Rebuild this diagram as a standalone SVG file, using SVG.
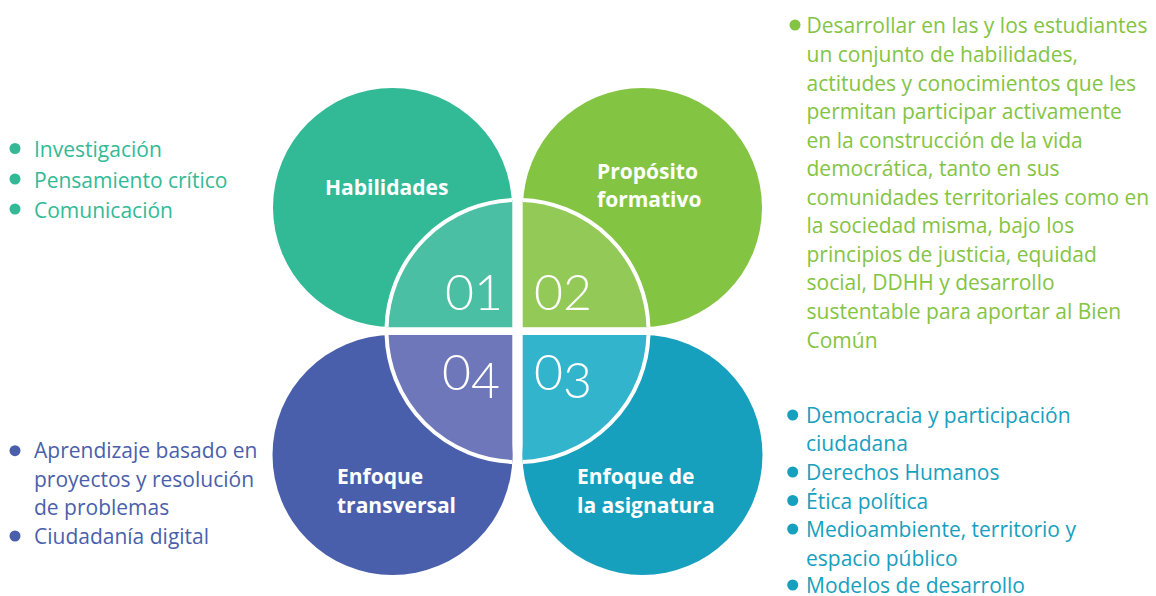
<svg xmlns="http://www.w3.org/2000/svg" width="1156" height="596" viewBox="0 0 1156 596">
<style>
.lbl{font-family:"Open Sans","Noto Sans","Liberation Sans",sans-serif;font-weight:700;font-size:21px;fill:#fff}
.num{font-family:Lato,Inter,"Open Sans",sans-serif;font-weight:300;font-size:50px;fill:#fff}
.txt{font-family:"Open Sans","Noto Sans","Liberation Sans",sans-serif;font-size:21px}
.ring{stroke:#fff;stroke-width:4}
</style>
<defs>
<clipPath id="c1"><rect x="370" y="180" width="142.3" height="147.3"/></clipPath>
<clipPath id="c2"><rect x="522.7" y="180" width="142" height="147.3"/></clipPath>
<clipPath id="c3"><rect x="522.7" y="335" width="142" height="140"/></clipPath>
<clipPath id="c4"><rect x="370" y="335" width="142.3" height="140"/></clipPath>
</defs>
<rect width="1156" height="596" fill="#fff"/>

<g id="habilidades">
<circle cx="392.5" cy="207.5" r="119.5" fill="#32BA97"/>
<circle cx="517.5" cy="331" r="131" fill="#4BBFA4" class="ring" clip-path="url(#c1)"/>
<text class="lbl" x="325" y="195">Habilidades</text>
<text class="num" x="503" y="310" text-anchor="end">01</text>
<g fill="#32BA97" class="txt">
<circle cx="15" cy="148.5" r="5.5"/>
<text x="34" y="157">Investigación</text>
<circle cx="15" cy="179" r="5.5"/>
<text x="34" y="187.5">Pensamiento crítico</text>
<circle cx="15" cy="209" r="5.5"/>
<text x="34" y="217.5">Comunicación</text>
</g>
</g>

<g id="proposito">
<circle cx="642.5" cy="207.5" r="119.5" fill="#84C443"/>
<circle cx="517.5" cy="331" r="131" fill="#93C957" class="ring" clip-path="url(#c2)"/>
<text class="lbl" x="597" y="179">Propósito</text>
<text class="lbl" x="597" y="207">formativo</text>
<text class="num" x="534" y="310">02</text>
<g fill="#84C443" class="txt">
<circle cx="795" cy="25" r="5.5"/>
<text x="806.5" y="33.3">Desarrollar en las y los estudiantes</text>
<text x="806.5" y="62.3">un conjunto de habilidades,</text>
<text x="806.5" y="90.8">actitudes y conocimientos que les</text>
<text x="806.5" y="119.3">permitan participar activamente</text>
<text x="806.5" y="147.8">en la construcción de la vida</text>
<text x="806.5" y="176.3">democrática, tanto en sus</text>
<text x="806.5" y="204.9">comunidades territoriales como en</text>
<text x="806.5" y="233.4">la sociedad misma, bajo los</text>
<text x="806.5" y="261.9">principios de justicia, equidad</text>
<text x="806.5" y="290.4">social, DDHH y desarrollo</text>
<text x="806.5" y="319">sustentable para aportar al Bien</text>
<text x="806.5" y="347.6">Común</text>
</g>
</g>

<g id="enfoque-asignatura">
<circle cx="642.5" cy="455" r="120" fill="#17A0BE"/>
<circle cx="517.5" cy="331" r="131" fill="#33B4CD" class="ring" clip-path="url(#c3)"/>
<text class="lbl" x="577" y="484">Enfoque de</text>
<text class="lbl" x="577" y="513">la asignatura</text>
<text class="num" x="534" y="390">0<tspan dy="8">3</tspan></text>
<g fill="#17A0BE" class="txt">
<circle cx="792.7" cy="415" r="5.5"/>
<text x="806" y="422.7">Democracia y participación</text>
<text x="806" y="451.3">ciudadana</text>
<circle cx="792.7" cy="472" r="5.5"/>
<text x="806" y="479.9">Derechos Humanos</text>
<circle cx="792.7" cy="500.5" r="5.5"/>
<text x="806" y="508.5">Ética política</text>
<circle cx="792.7" cy="529" r="5.5"/>
<text x="806" y="537">Medioambiente, territorio y</text>
<text x="806" y="565.6">espacio público</text>
<circle cx="792.7" cy="585" r="5.5"/>
<text x="806" y="593">Modelos de desarrollo</text>
</g>
</g>

<g id="enfoque-transversal">
<circle cx="392.5" cy="455" r="120" fill="#4A5FAB"/>
<circle cx="517.5" cy="331" r="131" fill="#6E77BA" class="ring" clip-path="url(#c4)"/>
<text class="lbl" x="337" y="484">Enfoque</text>
<text class="lbl" x="337" y="513">transversal</text>
<text class="num" x="500" y="390" text-anchor="end">0<tspan dy="8">4</tspan></text>
<g fill="#4A5FAB" class="txt">
<circle cx="15" cy="450.7" r="5.5"/>
<text x="34" y="458.3">Aprendizaje basado en</text>
<text x="34" y="486.8">proyectos y resolución</text>
<text x="34" y="515.2">de problemas</text>
<circle cx="15" cy="536" r="5.5"/>
<text x="34" y="543.6">Ciudadanía digital</text>
</g>
</g>
</svg>
